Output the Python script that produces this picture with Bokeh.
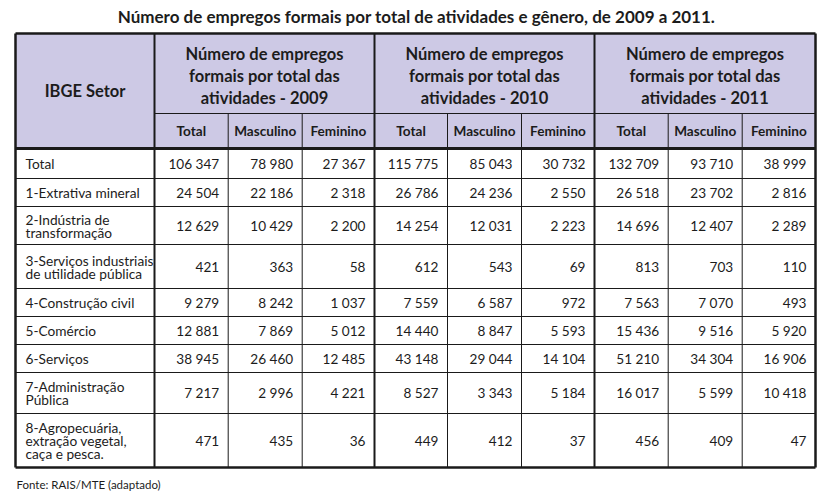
from bokeh.plotting import figure
from bokeh.models import Range1d, ColumnDataSource
from bokeh.core.properties import value
from bokeh.embed import file_html
from bokeh.resources import INLINE

title = "Número de empregos formais por total de atividades e gênero, de 2009 a 2011."
footnote = "Fonte: RAIS/MTE (adaptado)"
corner_label = "IBGE Setor"
years = ["2009", "2010", "2011"]
group_label = ["Número de empregos", "formais por total das", "atividades - {}"]
sub_labels = ["Total", "Masculino", "Feminino"]

sectors = [
    ["Total"],
    ["1-Extrativa mineral"],
    ["2-Indústria de", "transformação"],
    ["3-Serviços industriais", "de utilidade pública"],
    ["4-Construção civil"],
    ["5-Comércio"],
    ["6-Serviços"],
    ["7-Administração", "Pública"],
    ["8-Agropecuária,", "extração vegetal,", "caça e pesca."],
]

total_2009 = [106347, 24504, 12629, 421, 9279, 12881, 38945, 7217, 471]
masc_2009 = [78980, 22186, 10429, 363, 8242, 7869, 26460, 2996, 435]
fem_2009 = [27367, 2318, 2200, 58, 1037, 5012, 12485, 4221, 36]
total_2010 = [115775, 26786, 14254, 612, 7559, 14440, 43148, 8527, 449]
masc_2010 = [85043, 24236, 12031, 543, 6587, 8847, 29044, 3343, 412]
fem_2010 = [30732, 2550, 2223, 69, 972, 5593, 14104, 5184, 37]
total_2011 = [132709, 26518, 14696, 813, 7563, 15436, 51210, 16017, 456]
masc_2011 = [93710, 23702, 12407, 703, 7070, 9516, 34304, 5599, 409]
fem_2011 = [38999, 2816, 2289, 110, 493, 5920, 16906, 10418, 47]

columns = [total_2009, masc_2009, fem_2009,
           total_2010, masc_2010, fem_2010,
           total_2011, masc_2011, fem_2011]

# ---- layout (pixel coordinates of the picture) ----
W, H = 833, 493
col_edges = [15, 154, 227.7, 301.7, 374, 447, 521, 594, 667.7, 741.7, 815]
row_edges = [148, 178, 206, 244, 288, 316, 344, 372, 413, 467]
top_y, head1_y, head2_y = 33, 113, 148
FONT = "Lato"
TXT = "#1c1c1c"
LINE = "#1a1a1a"
HEAD_FILL = "#cdc9e5"

p = figure(width=W, height=H, x_range=Range1d(0, W), y_range=Range1d(H, 0),
           output_backend="svg", toolbar_location=None, min_border=0,
           x_axis_type=None, y_axis_type=None)
p.grid.visible = False
p.outline_line_color = None
p.background_fill_color = "white"
p.border_fill_color = "white"

# header background
p.quad(left=[col_edges[0]], right=[col_edges[-1]],
       top=[top_y], bottom=[head2_y],
       fill_color=HEAD_FILL, line_color=None)

# thin lines
x0s, y0s, x1s, y1s = [], [], [], []
for i, xe in enumerate(col_edges):
    if i in (0, 1, 4, 7, 10):
        continue
    x0s.append(xe); x1s.append(xe)
    y0s.append(head1_y); y1s.append(row_edges[-1])
for ye in row_edges[1:-1]:
    x0s.append(col_edges[0]); x1s.append(col_edges[-1])
    y0s.append(ye); y1s.append(ye)
x0s.append(col_edges[1]); x1s.append(col_edges[-1])
y0s.append(head1_y); y1s.append(head1_y)
p.segment(x0=x0s, y0=y0s, x1=x1s, y1=y1s, line_color=LINE, line_width=1)

# group separators (medium)
gx = [col_edges[1], col_edges[4], col_edges[7]]
p.segment(x0=gx, y0=[top_y] * 3, x1=gx, y1=[row_edges[-1]] * 3,
          line_color=LINE, line_width=2)

# outer border and header bottom (thick)
L, R, T, B = col_edges[0], col_edges[-1], top_y, row_edges[-1]
p.segment(x0=[L, L, L, R], y0=[T, B, T, T], x1=[R, R, L, R], y1=[T, B, B, B],
          line_color=LINE, line_width=2.5)
p.segment(x0=[L], y0=[head2_y], x1=[R], y1=[head2_y],
          line_color=LINE, line_width=3)

# title
p.text(x=[416], y=[15.5], text=[title], text_font=value(FONT),
       text_font_size="17px", text_font_style="bold", text_color=TXT,
       text_align="center", text_baseline="middle")

# footnote
p.text(x=[16], y=[484], text=[footnote], text_font=value(FONT),
       text_font_size="11.5px", text_color=TXT,
       text_align="left", text_baseline="middle")

# corner label
p.text(x=[(col_edges[0] + col_edges[1]) / 2], y=[(top_y + head2_y) / 2],
       text=[corner_label], text_font=value(FONT), text_font_size="16.5px",
       text_font_style="bold", text_color=TXT, text_align="center",
       text_baseline="middle")

# group headers
hx, hy, ht = [], [], []
for g, yr in enumerate(years):
    cx = (col_edges[1 + 3 * g] + col_edges[4 + 3 * g]) / 2
    for k, line in enumerate(group_label):
        hx.append(cx); hy.append(53 + 22 * k); ht.append(line.format(yr))
p.text(x=hx, y=hy, text=ht, text_font=value(FONT), text_font_size="16.5px",
       text_font_style="bold", text_color=TXT, text_align="center",
       text_baseline="middle")

# sub headers
sx, sy, st = [], [], []
for g in range(3):
    for k, lab in enumerate(sub_labels):
        c = 1 + 3 * g + k
        sx.append((col_edges[c] + col_edges[c + 1]) / 2)
        sy.append((head1_y + head2_y) / 2)
        st.append(lab)
p.text(x=sx, y=sy, text=st, text_font=value(FONT), text_font_size="13.6px",
       text_font_style="bold", text_color=TXT, text_align="center",
       text_baseline="middle")

# row labels
LH = 13
rx, ry, rt = [], [], []
for r, lines in enumerate(sectors):
    cy = (row_edges[r] + row_edges[r + 1]) / 2
    n = len(lines)
    for k, line in enumerate(lines):
        rx.append(col_edges[0] + 10)
        ry.append(cy + (k - (n - 1) / 2) * LH)
        rt.append(line)
p.text(x=rx, y=ry, text=rt, text_font=value(FONT), text_font_size="13.7px",
       text_color=TXT, text_align="left", text_baseline="middle")

# numbers
nx, ny, nt = [], [], []
for c, vals in enumerate(columns):
    for r, v in enumerate(vals):
        nx.append(col_edges[c + 2] - 9)
        ny.append((row_edges[r] + row_edges[r + 1]) / 2)
        nt.append(f"{v:,}".replace(",", " "))
src = ColumnDataSource(dict(x=nx, y=ny, text=nt))
p.text(x="x", y="y", text="text", source=src, text_font=value(FONT),
       text_font_size="13.6px", text_color=TXT, text_align="right",
       text_baseline="middle")

open("out.html", "w").write(file_html(p, INLINE))
